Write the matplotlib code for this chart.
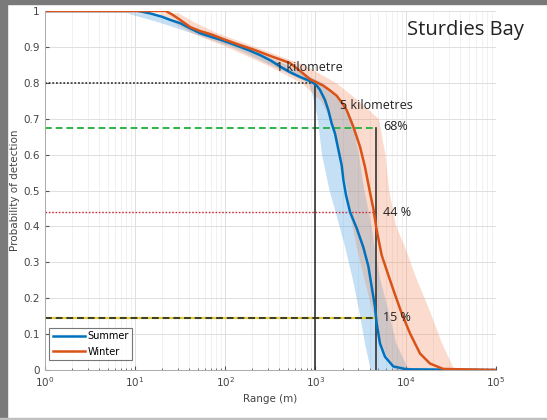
import matplotlib.pyplot as plt
from matplotlib.patches import Rectangle
from matplotlib.ticker import LogLocator, NullFormatter
import numpy as np

# mean detection curves (range in m, probability)
summer_x = [1, 10.5, 12, 14.9, 20, 24.8, 31.9, 40, 53, 70, 88.5, 115, 147, 190, 245, 320,
            408, 520, 680, 850, 910, 1000, 1060, 1125, 1277, 1390, 1514, 1648, 1793, 1955,
            2050, 2180, 2421, 2866, 3394, 3853, 4201, 4570, 4773, 5193, 5899, 7291, 10250, 1e5]
summer_y = [1, 1, 0.998, 0.993, 0.984, 0.975, 0.966, 0.953, 0.938, 0.928, 0.92, 0.91, 0.9, 0.889,
            0.877, 0.862, 0.845, 0.83, 0.816, 0.806, 0.802, 0.796, 0.789, 0.78, 0.752, 0.724,
            0.687, 0.659, 0.615, 0.57, 0.527, 0.488, 0.44, 0.395, 0.342, 0.29, 0.232, 0.176,
            0.13, 0.074, 0.037, 0.01, 0.002, 0]

winter_x = [1, 22, 26, 31.9, 41.2, 53, 70, 100, 147, 210, 300, 408, 523, 700, 871, 1000,
            1224, 1450, 1721, 2000, 2221, 2630, 3119, 3540, 4024, 4380, 4773, 5420,
            6412, 7617, 9033, 11170, 14410, 18590, 26070, 1e5]
winter_y = [1, 1, 0.99, 0.975, 0.955, 0.944, 0.935, 0.92, 0.905, 0.892, 0.877, 0.865, 0.855,
            0.83, 0.81, 0.803, 0.792, 0.779, 0.764, 0.742, 0.724, 0.678, 0.622, 0.566, 0.495,
            0.45, 0.39, 0.32, 0.265, 0.21, 0.158, 0.102, 0.046, 0.018, 0.003, 0]

# spread bands: range limits at each probability level
band_p = [0.995, 0.97, 0.94, 0.9, 0.85, 0.8, 0.75, 0.7, 0.6, 0.5, 0.45, 0.4, 0.35, 0.26,
          0.17, 0.075, 0.01, 0.0]
summer_lo = [8, 18, 42, 120, 320, 840, 960, 1050, 1170, 1420, 1620, 1830, 2080, 2530,
             3000, 3500, 3980, 4100]
summer_hi = [13, 30, 62, 170, 480, 1200, 1900, 2500, 3000, 3450, 3800, 4150, 4450, 5100,
             6300, 7800, 10250, 13000]
winter_lo = [18, 26, 42, 105, 290, 700, 1150, 1450, 1850, 2250, 2350, 2550, 2800, 3400,
             4200, 5300, 7000, 7500]
winter_hi = [30, 45, 80, 220, 750, 1700, 3000, 5000, 5900, 6500, 7100, 7800, 9500, 12800,
             18000, 25000, 33000, 35000]

# reference levels
p_1km = 0.8
p_68 = 0.675
p_44 = 0.44
p_15 = 0.145
r_1km = 1000
r_5km = 4650

blue = '#0072BD'
orange = '#D95319'

fig = plt.figure(figsize=(5.47, 4.20), dpi=100)
ax = fig.add_axes([0.0814, 0.119, 0.8253, 0.8548])

ax.fill_betweenx(band_p, summer_lo, summer_hi, color='#4fa3e0', alpha=0.33, lw=0)
ax.fill_betweenx(band_p, winter_lo, winter_hi, color='#f08a5d', alpha=0.3, lw=0)

# guide lines
ax.plot([1, r_1km], [p_1km, p_1km], color='#222222', ls=(0, (1.2, 1.2)), lw=1.1)
ax.plot([1, r_5km], [p_68, p_68], color='#2fb34a', ls=(0, (3.5, 2)), lw=1.4)
ax.plot([1, r_5km], [p_44, p_44], color='#c8303a', ls=(0, (1.2, 1.2)), lw=1.0)
ax.plot([1, r_5km], [p_15, p_15], color='#e2cf3a', lw=1.6)
ax.plot([1, r_5km], [p_15, p_15], color='#3b3b2a', ls=(0, (3.5, 2)), lw=1.4)
ax.plot([r_1km, r_1km], [0, p_1km], color='#333333', lw=1.2)
ax.plot([r_5km, r_5km], [0, p_68], color='#333333', lw=1.2)

ax.plot(summer_x, summer_y, color=blue, lw=1.8, label='Summer')
ax.plot(winter_x, winter_y, color=orange, lw=1.8, label='Winter')

tfont = dict(family=['Open Sans', 'DejaVu Sans'], fontsize=9, color='#222222')
ax.text(368, 0.844, '1 kilometre', va='center', ha='left', **tfont)
ax.text(1870, 0.738, '5 kilometres', va='center', ha='left', **tfont)
ax.text(5620, 0.677, '68%', va='center', ha='left', **tfont)
ax.text(5620, 0.44, '44 %', va='center', ha='left', **tfont)
ax.text(5620, 0.145, '15 %', va='center', ha='left', **tfont)

ax.set_xscale('log')
ax.set_xlim(1, 1e5)
ax.set_ylim(0, 1)
ax.set_yticks(np.arange(0, 1.01, 0.1))
ax.set_yticklabels(['0', '0.1', '0.2', '0.3', '0.4', '0.5', '0.6', '0.7', '0.8', '0.9', '1'])
ax.xaxis.set_minor_locator(LogLocator(base=10, subs=np.arange(2, 10), numticks=20))
ax.xaxis.set_minor_formatter(NullFormatter())
ax.grid(True, which='major', color='#dedede', lw=0.7)
ax.grid(True, which='minor', axis='x', color='#ececec', lw=0.5)
ax.set_axisbelow(True)
ax.tick_params(which='both', direction='in', colors='#555555', labelsize=7.5, labelcolor='#444444')
ax.tick_params(which='major', length=3)
ax.tick_params(which='minor', length=1.8)
for s in ['top', 'right']:
    ax.spines[s].set_visible(False)
for s in ['left', 'bottom']:
    ax.spines[s].set_color('#aaaaaa')
    ax.spines[s].set_linewidth(0.7)

ax.set_xlabel('Range (m)', fontsize=7.5, color='#444444', labelpad=4)
ax.set_ylabel('Probability of detection', fontsize=7.5, color='#444444', labelpad=2)

leg = ax.legend(loc='lower left', bbox_to_anchor=(0.006, 0.022), fontsize=7, frameon=True,
                fancybox=False, handlelength=3.3, borderpad=0.35, labelspacing=0.55,
                handletextpad=0.3, borderaxespad=0.2)
leg.get_frame().set_edgecolor('#555555')
leg.get_frame().set_linewidth(0.8)

fig.text(0.744, 0.928, 'Sturdies Bay', fontsize=14.5, family=['Open Sans', 'DejaVu Sans'],
         color='#222222', va='center', ha='left')

# grey frame around the screenshot
fig.patches.append(Rectangle((0, 0.99), 1, 0.01, transform=fig.transFigure, color='#7a7a7a', zorder=10))
fig.patches.append(Rectangle((0, 0), 0.0128, 1, transform=fig.transFigure, color='#7a7a7a', zorder=10))
fig.patches.append(Rectangle((0, 0), 1, 0.005, transform=fig.transFigure, color='#c0c0c0', zorder=10))

fig.savefig('out.png', dpi=100)
